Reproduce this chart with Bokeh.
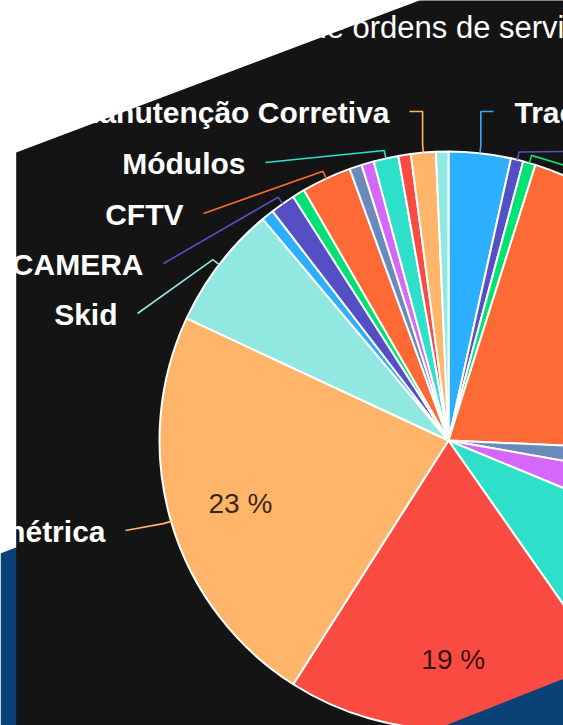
import math
from bokeh.plotting import figure
from bokeh.models import Range1d, ColumnDataSource
from bokeh.embed import file_html
from bokeh.resources import INLINE
from bokeh.core.properties import value

# ---------------- data ----------------
title_text = "Quantidade de ordens de serviço por tipo"
categories = [
    "Tracker", "Inversor", "String Box", "Limpeza", "Transformador",
    "Cabine", "Subestação", "Manutenção Preventiva", "Estação Solarimétrica", "Skid",
    "Rede", "CAMERA", "Iluminação", "CFTV", "Cerca",
    "Drenagem", "Módulos", "Estrutura", "Manutenção Corretiva", "Outros",
]
counts = [5, 1, 1, 30, 3, 5, 13, 27, 33, 10, 1, 2, 1, 4, 1, 1, 2, 1, 2, 1]
palette = ["#2caffe", "#544fc5", "#00e272", "#fe6a35", "#6b8abc",
           "#d568fb", "#2ee0ca", "#fa4b42", "#feb56a", "#91e8e1"]

# outside labels: slice index, side, anchor x, anchor y (layout of the label boxes)
label_slices = [0, 18, 16, 13, 11, 9, 8]
label_side = ["right", "left", "left", "left", "left", "left", "left"]
label_anchor_x = [493, 409, 265, 203, 163, 137, 125]
label_anchor_y = [111, 111, 162, 213, 263, 313, 530]
label_crook = [True, True, False, False, False, False, False]
# connectors of labels lying outside the visible area
offscreen_slices = [1, 2]
offscreen_anchor_x = [640, 640]
offscreen_anchor_y = [150, 188]

# ---------------- layout ----------------
W, H = 563, 725
CX, CY, R = 448, 440, 289
BREAK = 8
PAD = 20
LABEL_PX = 30
BLUE = "#0a4177"

p = figure(width=W, height=H, x_range=Range1d(0, W), y_range=Range1d(-H, 0),
           output_backend="svg", toolbar_location=None, min_border=0,
           x_axis_location=None, y_axis_location=None)
p.grid.visible = False
p.outline_line_color = None
p.background_fill_color = "white"
p.border_fill_color = "white"

# background shapes (blue band and dark slanted panel)
p.patch([0, 600, 600, 0], [-553, -(553 - 0.39 * 600), -760, -760],
        fill_color=BLUE, line_color=None)
p.patch([15.7, 600, 600, 300, 15.7],
        [-152, -(152 - 0.377 * (600 - 15.7)), -(725 - 0.396 * (600 - 445)), -(725 + 0.396 * 145), -(725 + 0.396 * 145)],
        fill_color="#141414", line_color=None)

# title
p.text(x=[140], y=[-27], text=[title_text], text_font=value("Liberation Sans"),
       text_font_size="31px", text_color="#ffffff", text_align="left", text_baseline="middle")

# slices
total = float(sum(counts))
theta0, theta1, colors, mids = [], [], [], []
acc = 0.0
for i, c in enumerate(counts):
    t0 = acc / total * 360.0
    acc += c
    t1 = acc / total * 360.0
    theta0.append(t0)
    theta1.append(t1)
    mids.append((t0 + t1) / 2)
    colors.append(palette[i % len(palette)])

src = ColumnDataSource(dict(
    x=[CX] * len(counts), y=[-CY] * len(counts),
    start=[math.radians(90 - t) for t in theta1],
    end=[math.radians(90 - t) for t in theta0],
    color=colors, cat=categories, count=counts,
))
p.wedge(x="x", y="y", radius=R, start_angle="start", end_angle="end",
        fill_color="color", line_color="white", line_width=2, source=src)


def polar(theta_deg, rad):
    a = math.radians(theta_deg)
    return CX + rad * math.sin(a), CY - rad * math.cos(a)


xs, ys, lc = [], [], []
for k, si in enumerate(label_slices):
    tx, ty = polar(mids[si], R)
    bx, by = polar(mids[si], R + BREAK)
    ax, ay = label_anchor_x[k], label_anchor_y[k]
    px = [ax]
    py = [ay]
    if label_crook[k]:
        px.append(bx)
        py.append(ay)
    px += [bx, tx]
    py += [by, ty]
    xs.append(px)
    ys.append([-v for v in py])
    lc.append(colors[si])
for k, si in enumerate(offscreen_slices):
    tx, ty = polar(mids[si], R)
    bx, by = polar(mids[si], R + BREAK)
    xs.append([offscreen_anchor_x[k], bx, tx])
    ys.append([-offscreen_anchor_y[k], -by, -ty])
    lc.append(colors[si])
p.multi_line(xs=xs, ys=ys, line_color=lc, line_width=1.6)

# outside labels
lx, ly, lt, la = [], [], [], []
for k, si in enumerate(label_slices):
    if label_side[k] == "left":
        lx.append(label_anchor_x[k] - PAD)
        la.append("right")
    else:
        lx.append(label_anchor_x[k] + PAD + 1)
        la.append("left")
    ly.append(-(label_anchor_y[k] + 1))
    lt.append(categories[si])
p.text(x=lx, y=ly, text=lt, text_align=la, text_baseline="middle",
       text_font=value("Liberation Sans"), text_font_size=f"{LABEL_PX}px",
       text_font_style="bold", text_color="white")

# inside percentage labels (slices above 10 %)
px_, py_, pt = [], [], []
for i, c in enumerate(counts):
    pct = c / total * 100
    if pct >= 10:
        x, y = polar(mids[i], 0.75 * R)
        if 0 < x < W and 0 < y < H:
            px_.append(x)
            py_.append(-(y + 2))
            pt.append(f"{pct:.0f} %")
p.text(x=px_, y=py_, text=pt, text_align="center", text_baseline="middle",
       text_font=value("Liberation Sans"), text_font_size="28px",
       text_color="black", text_alpha=0.8)

# foreground: the blue band also covers the lower right corner of the chart
p.patch([400, 600, 600, 400],
        [-(725 + 0.396 * 45), -(725 - 0.396 * 155), -800, -800],
        fill_color=BLUE, line_color=None)

open("out.html", "w").write(file_html(p, INLINE))
